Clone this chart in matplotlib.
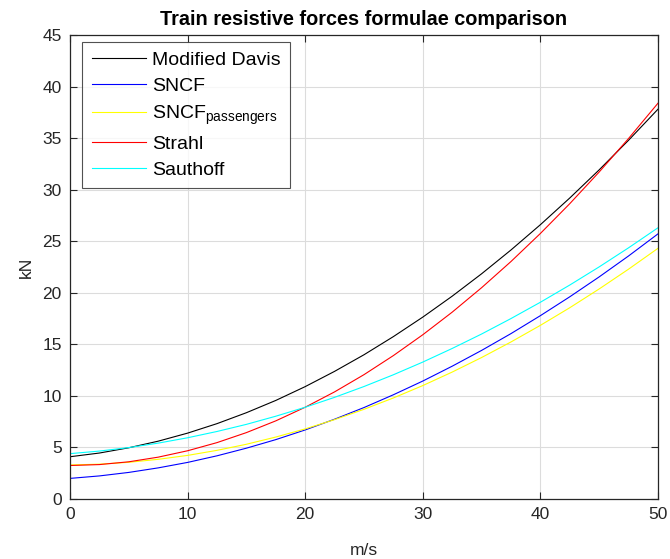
import matplotlib
matplotlib.use("Agg")
import matplotlib.pyplot as plt

plt.rcParams['font.family'] = ['Liberation Sans', 'DejaVu Sans']
plt.rcParams['mathtext.fontset'] = 'custom'
plt.rcParams['mathtext.rm'] = 'Liberation Sans'
plt.rcParams['mathtext.it'] = 'Liberation Sans:italic'

speed = [0, 2.5, 5, 7.5, 10, 12.5, 15, 17.5, 20, 22.5, 25, 27.5, 30, 32.5, 35,
         37.5, 40, 42.5, 45, 47.5, 50]
modified_davis = [4.10, 4.46, 4.97, 5.61, 6.39, 7.31, 8.37, 9.56, 10.90, 12.38, 13.99,
                  15.75, 17.64, 19.67, 21.84, 24.15, 26.60, 29.19, 31.92, 34.79, 37.80]
sncf = [2.00, 2.24, 2.58, 3.02, 3.55, 4.19, 4.93, 5.76, 6.70, 7.74, 8.87,
        10.11, 11.44, 12.88, 14.41, 16.04, 17.78, 19.61, 21.54, 23.57, 25.71]
sncf_passengers = [3.30, 3.38, 3.56, 3.85, 4.23, 4.72, 5.31, 6.01, 6.80, 7.70, 8.70,
                   9.80, 11.00, 12.31, 13.72, 15.23, 16.84, 18.55, 20.37, 22.29, 24.31]
strahl = [3.25, 3.34, 3.61, 4.06, 4.68, 5.47, 6.44, 7.58, 8.90, 10.39, 12.06,
          13.91, 15.93, 18.12, 20.49, 23.03, 25.75, 28.64, 31.71, 34.96, 38.38]
sauthoff = [4.40, 4.65, 4.99, 5.42, 5.94, 6.55, 7.24, 8.03, 8.90, 9.86, 10.91,
            12.05, 13.28, 14.60, 16.00, 17.50, 19.08, 20.75, 22.51, 24.36, 26.30]

labels = ['Modified Davis', 'SNCF', r'SNCF$_{\mathrm{passengers}}$', 'Strahl', 'Sauthoff']
colors = ['black', 'blue', 'yellow', 'red', 'cyan']
xticks = [0, 10, 20, 30, 40, 50]
yticks = [0, 5, 10, 15, 20, 25, 30, 35, 40, 45]

fig = plt.figure(figsize=(6.7, 5.59), dpi=100)
ax = fig.add_axes([0.1045, 0.1073, 0.8775, 0.8301])

for series, lab, col in zip([modified_davis, sncf, sncf_passengers, strahl, sauthoff], labels, colors):
    ax.plot(speed, series, color=col, lw=0.8, label=lab)

ax.set_xlim(0, 50)
ax.set_ylim(0, 45)
ax.set_xticks(xticks)
ax.set_yticks(yticks)
ax.grid(True, color='#dcdcdc', lw=0.8)
ax.set_axisbelow(True)
ax.tick_params(direction='in', top=True, right=True, labelsize=12.5, colors='#262626',
               length=5, width=0.8, pad=6)
for s in ax.spines.values():
    s.set_color('#262626')
    s.set_linewidth(0.9)

ax.set_xlabel('m/s', fontsize=12.5, color='#262626', labelpad=15)
ax.set_ylabel('kN', fontsize=12.5, color='#262626', labelpad=6)
ax.set_title('Train resistive forces formulae comparison', fontsize=14.3, fontweight='bold', pad=7)

leg = ax.legend(loc='upper left', bbox_to_anchor=(0.0204, 0.985), fontsize=14, handlelength=2.8,
                frameon=True, fancybox=False, edgecolor='#262626', borderaxespad=0.0,
                labelspacing=0.43, handletextpad=0.3, borderpad=0.5)
leg.get_frame().set_linewidth(0.8)

fig.savefig('out.png', dpi=100)
